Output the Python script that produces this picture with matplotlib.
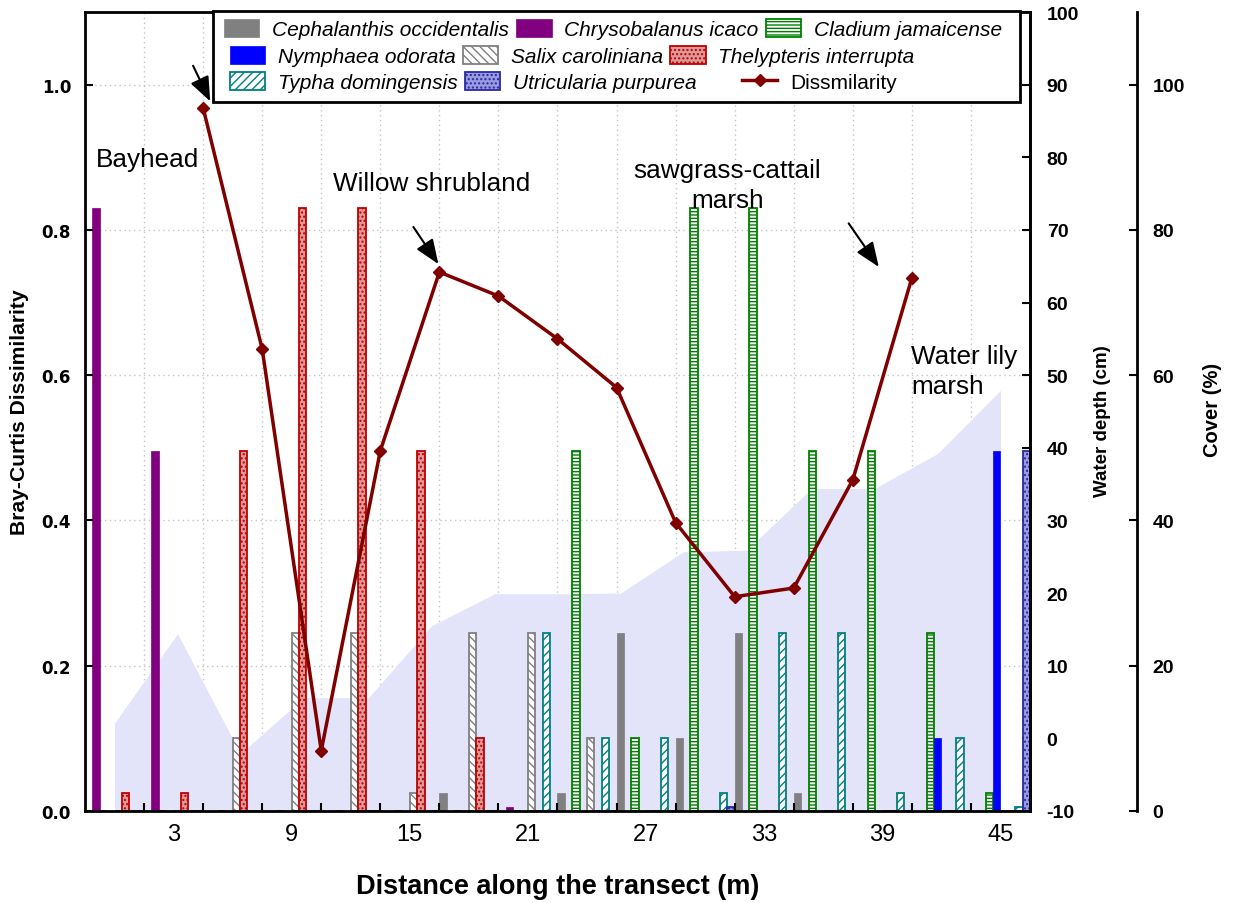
import matplotlib
matplotlib.use("Agg")
import matplotlib.pyplot as plt
from matplotlib.patches import Rectangle
from matplotlib.legend import Legend
from matplotlib import font_manager

# ---------------- data ----------------
distances = [0, 3, 6, 9, 12, 15, 18, 21, 24, 27, 30, 33, 36, 39, 42, 45]

species = ["Cephalanthis occidentalis", "Chrysobalanus icaco", "Cladium jamaicense",
           "Nymphaea odorata", "Salix caroliniana", "Thelypteris interrupta",
           "Typha domingensis", "Utricularia purpurea"]

cephalanthis = [0, 0, 0, 0, 0, 0, 2.5, 0, 2.5, 24.5, 10, 24.5, 2.5, 0, 0, 0]
chrysobalanus = [83, 49.5, 0, 0, 0, 0, 0, 0.5, 0, 0, 0, 0, 0, 0, 0, 0]
cladium = [0, 0, 0, 0, 0, 0, 0, 0, 49.5, 10, 83, 83, 49.5, 49.5, 24.5, 2.5]
nymphaea = [0, 0, 0, 0, 0, 0, 0, 0, 0, 0, 0, 0, 0, 0, 10, 49.5]
salix = [0, 0, 10, 24.5, 24.5, 2.5, 24.5, 24.5, 10, 0, 0, 0, 0, 0, 0, 0]
thelypteris = [2.5, 2.5, 49.5, 83, 83, 49.5, 10, 0, 0, 0, 0, 0, 0, 0, 0, 0]
typha = [0, 0, 0, 0, 0, 0, 0, 24.5, 10, 10, 2.5, 24.5, 24.5, 2.5, 10, 0.5]
utricularia = [0, 0, 0, 0, 0, 0, 0, 0, 0, 0, 0.5, 0, 0, 0, 0, 49.5]
cover_series = [cephalanthis, chrysobalanus, cladium, nymphaea, salix,
                thelypteris, typha, utricularia]

dissim_dist = [4.5, 7.5, 10.5, 13.5, 16.5, 19.5, 22.5, 25.5, 28.5, 31.5, 34.5, 37.5, 40.5]
dissim = [0.968, 0.636, 0.083, 0.496, 0.742, 0.709, 0.650, 0.583, 0.397, 0.295,
          0.307, 0.456, 0.734]

depth_dist = [0, 3.2, 6.4, 9.6, 12.9, 16.1, 19.3, 22.5, 25.7, 28.9, 32.1, 35.4,
              38.6, 41.8, 45]
depth_cm = [2.1, 14.4, -2.1, 5.6, 5.6, 15.5, 19.9, 19.9, 20.0, 25.7, 25.9, 34.4,
            34.4, 39.2, 47.9]

left_ticks = [0.0, 0.2, 0.4, 0.6, 0.8, 1.0]
depth_ticks = [-10, 0, 10, 20, 30, 40, 50, 60, 70, 80, 90, 100]
cover_ticks = [0, 20, 40, 60, 80, 100]

# ---------------- styles ----------------
styles = [
    dict(facecolor="#808080", edgecolor="#808080", hatch=None, linewidth=0.5),
    dict(facecolor="#800080", edgecolor="#800080", hatch=None, linewidth=0.5),
    dict(facecolor="#ffffff", edgecolor="#008000", hatch="-----", linewidth=1.3),
    dict(facecolor="#0000ff", edgecolor="#0000ff", hatch=None, linewidth=0.5),
    dict(facecolor="#ffffff", edgecolor="#808080", hatch="\\\\\\\\", linewidth=1.3),
    dict(facecolor="#dc9a9a", edgecolor="#c00000", hatch="....", linewidth=1.3),
    dict(facecolor="#ffffff", edgecolor="#008080", hatch="////", linewidth=1.3),
    dict(facecolor="#9a9ae0", edgecolor="#2a2aa0", hatch="....", linewidth=1.3),
]

names = {f.name for f in font_manager.fontManager.ttflist}
narrow = "Liberation Sans Narrow" if "Liberation Sans Narrow" in names else None

plt.rcParams["font.family"] = ["Liberation Sans", "DejaVu Sans"]
plt.rcParams["hatch.linewidth"] = 1.0

fig = plt.figure(figsize=(12.33, 9.04), dpi=100)
rect = [85 / 1233, 92 / 904, 945 / 1233, 799 / 904]
ax_grid = fig.add_axes(rect)
ax_depth = ax_grid.twinx()
ax_cover = ax_grid.twinx()
ax = ax_grid.twinx()

boundaries = [(a + b) / 2 for a, b in zip(distances[:-1], distances[1:])]
ax_grid.set_xlim(-1.5, 46.5)

# ---- grid layer ----
ax_grid.set_ylim(0, 1.1)
ax_grid.set_yticks(left_ticks[1:])
for s in ax_grid.spines.values():
    s.set_visible(False)

lab_size = 15 if narrow else 13.5


def lab_kw(size):
    kw = dict(fontweight="bold", fontsize=size)
    if narrow:
        kw["family"] = narrow
    return kw


# ---- water depth area ----
ax_depth.fill_between(depth_dist, depth_cm, -10, color="#e3e3fa", linewidth=0)
ax_depth.set_ylim(-10, 100)
ax_depth.set_yticks(depth_ticks, labels=[str(t) for t in depth_ticks],
                    fontsize=14, fontweight="bold")
ax_depth.tick_params(axis="y", direction="in", length=6, width=1.5, pad=12)
for k, s in ax_depth.spines.items():
    s.set_visible(k == "right")
ax_depth.spines["right"].set_linewidth(2)
ax_depth.set_ylabel("Water depth (cm)", **lab_kw(lab_size))
ax_depth.yaxis.set_label_coords((1094 - 85) / 945, 0.489)

# ---- cover bars ----
ax_cover.set_ylim(0, 110)
slot = 3 / 8
handles = []
for i, (name, vals, st) in enumerate(zip(species, cover_series, styles)):
    xs = [d + (i - 3.5) * slot for d in distances]
    bc = ax_cover.bar(xs, vals, width=slot, label=name, **st)
    handles.append(bc)
ax_cover.spines["right"].set_position(("axes", (1137 - 85) / 945))
for k, s in ax_cover.spines.items():
    s.set_visible(k == "right")
ax_cover.spines["right"].set_linewidth(2)
ax_cover.set_yticks(cover_ticks, labels=[str(t) for t in cover_ticks],
                    fontsize=14, fontweight="bold")
ax_cover.tick_params(axis="y", direction="in", length=6, width=1.5, pad=11)
ax_cover.set_ylabel("Cover (%)", **lab_kw(lab_size + 1))
ax_cover.yaxis.set_label_coords((1203 - 85) / 945, 0.503)

# ---- main axis (dissimilarity) ----
ax.set_ylim(0, 1.1)
ax.xaxis.set_visible(True)
ax.yaxis.tick_left()
ax.yaxis.set_label_position("left")
ax.set_yticks(left_ticks, labels=["%.1f" % t for t in left_ticks],
              fontsize=12, fontweight="bold", family="DejaVu Sans")
ax.set_xticks(boundaries, labels=[""] * len(boundaries))
ax.set_xticks(distances[1::2], labels=[str(d) for d in distances[1::2]], minor=True,
              fontsize=17)
ax.tick_params(axis="x", which="major", direction="in", length=6, width=1.5)
ax.tick_params(axis="x", which="minor", length=0, pad=9)
ax.tick_params(axis="y", direction="in", length=6, width=1.5, pad=10)
for s in ax.spines.values():
    s.set_linewidth(2)
ax.set_xlabel("Distance along the transect (m)", fontsize=19.5, fontweight="bold")
ax.xaxis.set_label_coords(0.5, (812 - 874) / 799)
ax.set_ylabel("Bray-Curtis Dissimilarity", **lab_kw(lab_size + 1.7))
ax.yaxis.set_label_coords((29 - 85) / 945, 0.5)

# grid layer settings after shared ticks are defined
ax_grid.grid(True, which="major", linestyle=(0, (1, 2.5)), color="#c4c4c4",
             linewidth=1.0)
ax_grid.tick_params(which="both", length=0, labelbottom=False, labelleft=False)

line, = ax.plot(dissim_dist, dissim, color="#800000", lw=2.5, marker="D", ms=6,
                label="Dissmilarity", zorder=3)

# annotations
arrow_kw = dict(arrowstyle="-|>,head_length=0.75,head_width=0.3", color="black",
                lw=1.5, mutation_scale=20, shrinkA=0, shrinkB=0)
for tail, head in [((3.99, 1.026), (4.86, 0.977)),
                   ((15.18, 0.804), (16.45, 0.753)),
                   ((37.29, 0.809), (38.82, 0.749))]:
    ax.annotate("", xy=head, xytext=tail, arrowprops=arrow_kw, zorder=4)

tfs = 18.8
ax.text(-0.94, 0.888, "Bayhead", fontsize=tfs, ha="left", va="baseline")
ax.text(11.11, 0.855, "Willow shrubland", fontsize=tfs, ha="left", va="baseline")
ax.text(31.14, 0.862, "sawgrass-cattail\nmarsh", fontsize=tfs, ha="center",
        va="center", linespacing=1.3)
ax.text(40.45, 0.606, "Water lily\nmarsh", fontsize=tfs, ha="left", va="center",
        linespacing=1.3)

# legend: frame + flowing rows
ax.add_patch(Rectangle(((213 - 85) / 945, (812 - 103) / 799), (1020 - 213) / 945,
                       (103 - 12) / 799, transform=ax.transAxes, facecolor="white",
                       edgecolor="black", lw=2, zorder=4.5, clip_on=False))
rows = [([handles[0], handles[1], handles[2]], species[0:3], 224, 30),
        ([handles[3], handles[4], handles[5]], species[3:6], 230, 57),
        ([handles[6], handles[7]], species[6:8], 230, 83),
        ([line], ["Dissmilarity"], 742, 83)]
for hs, labs, px, py in rows:
    leg = Legend(ax, hs, labs, ncol=len(hs), frameon=False, loc="center left",
                 bbox_to_anchor=((px - 85) / 945, (812 - py) / 799),
                 bbox_transform=ax.transAxes, borderpad=0, borderaxespad=0,
                 handlelength=1.7, handleheight=0.95, handletextpad=0.6,
                 columnspacing=0.35,
                 prop=dict(family="Liberation Sans", style="italic", size=15))
    leg.set_zorder(5)
    for t, lab in zip(leg.get_texts(), labs):
        if lab == "Dissmilarity":
            t.set_fontstyle("normal")
    ax.add_artist(leg)

fig.savefig("out.png", dpi=100)
